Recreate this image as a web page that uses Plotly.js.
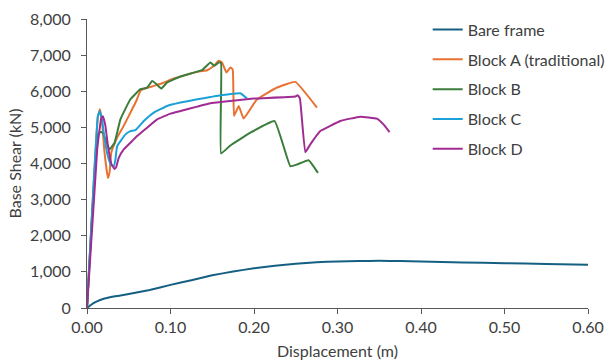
<!DOCTYPE html>
<html>
<head>
<meta charset="utf-8">
<script src="https://cdn.plot.ly/plotly-3.0.1.min.js"></script>
<style>
html,body{margin:0;padding:0;background:#fff;}
#chart{width:606px;height:363px;}
</style>
</head>
<body>
<div id="chart"></div>
<script>
// Series names
const seriesNames = ["Bare frame", "Block A (traditional)", "Block B", "Block C", "Block D"];

// Bare frame
const bareX = [0,0.005,0.01,0.015,0.02,0.03,0.04,0.05,0.075,0.1,0.125,0.15,0.175,0.2,0.225,0.25,0.275,0.3,0.325,0.35,0.375,0.4,0.45,0.5,0.55,0.6];
const bareY = [0,90,160,215,255,310,345,385,500,640,770,905,1010,1100,1170,1225,1265,1290,1300,1305,1300,1285,1260,1240,1220,1200];

// Block A (traditional)
const blockAX = [0,0.013,0.0155,0.018,0.021,0.025,0.027,0.029,0.033,0.037,0.043,0.049,0.054,0.059,0.064,0.07,0.08,0.09,0.104,0.12,0.135,0.144,0.152,0.1577,0.1617,0.1669,0.1717,0.1745,0.1761,0.1817,0.1876,0.1996,0.2036,0.2276,0.2495,0.2754];
const blockAY = [0,5300,5500,5150,4300,3600,3750,4300,4550,4760,5000,5270,5500,5731,6010,6080,6148,6220,6353,6460,6550,6580,6703,6842,6800,6520,6658,6600,5315,5592,5242,5650,5778,6103,6259,5547];

// Block B
const blockBX = [0,0.013,0.016,0.019,0.023,0.027,0.033,0.040,0.052,0.064,0.072,0.078,0.083,0.0888,0.096,0.112,0.125,0.1378,0.1478,0.1525,0.1577,0.1605,0.1606,0.1717,0.1956,0.2247,0.2435,0.2515,0.2654,0.2766];
const blockBY = [0,4800,4870,4850,4600,4390,4575,5222,5778,6056,6100,6287,6200,6075,6242,6408,6500,6584,6798,6703,6798,6780,4278,4500,4853,5175,3925,3972,4092,3742];

// Block C
const blockCX = [0,0.013,0.0153,0.018,0.021,0.025,0.029,0.0321,0.034,0.0361,0.0461,0.052,0.058,0.068,0.080,0.096,0.112,0.132,0.1478,0.160,0.1837,0.1917];
const blockCY = [0,5300,5453,5200,4700,4200,3950,3925,4100,4481,4806,4898,4925,5175,5409,5592,5686,5778,5840,5890,5945,5797];

// Block D
const blockDX = [0,0.0122,0.017,0.019,0.022,0.025,0.029,0.0329,0.035,0.038,0.044,0.052,0.060,0.072,0.084,0.100,0.112,0.132,0.1478,0.160,0.1996,0.2495,0.2523,0.2550,0.2614,0.2674,0.2794,0.2833,0.3033,0.3272,0.3472,0.3551,0.3623];
const blockDY = [0,4390,5250,5310,5050,4500,4000,3850,3900,4158,4390,4575,4760,4992,5222,5380,5453,5575,5667,5703,5797,5853,5890,5800,4314,4528,4898,4944,5175,5297,5242,5083,4870];

const colors = ["#156082", "#E97132", "#3B7D3B", "#1BA1D8", "#A02B93"];

const xs = [bareX, blockAX, blockBX, blockCX, blockDX];
const ys = [bareY, blockAY, blockBY, blockCY, blockDY];

const traces = seriesNames.map((name, i) => ({
  x: xs[i], y: ys[i], name: name, type: "scatter", mode: "lines",
  legendgroup: "g" + i,
  line: {color: colors[i], width: 2, shape: "spline", smoothing: 0.3}
}));

const fontFam = "Lato, 'Open Sans', sans-serif";
const txtColor = "#404040";
const layout = {
  width: 606, height: 363,
  margin: {l: 86.5, r: 18, t: 19, b: 55, autoexpand: false},
  paper_bgcolor: "#fff", plot_bgcolor: "#fff",
  font: {family: fontFam, size: 16, color: txtColor},
  showlegend: true,
  legend: {x: 0.68, y: 1.022, xanchor: "left", yanchor: "top", bgcolor: "rgba(0,0,0,0)",
           font: {family: fontFam, size: 16, color: txtColor}, tracegroupgap: 6, itemwidth: 30},
  xaxis: {
    range: [0, 0.6], dtick: 0.1, tick0: 0, tickformat: ".2f", automargin: false,
    showgrid: false, zeroline: false, showline: true, linecolor: "#595959", linewidth: 1,
    ticks: "outside", ticklen: 5, tickcolor: "#595959",
    tickfont: {family: fontFam, size: 16, color: txtColor},
    title: {text: "Displacement (m)", font: {family: fontFam, size: 16, color: txtColor}, standoff: 10}
  },
  yaxis: {
    range: [0, 8000], dtick: 1000, tickformat: ",.0f", automargin: false,
    showgrid: false, zeroline: false, showline: true, linecolor: "#595959", linewidth: 1,
    ticks: "outside", ticklen: 5, tickcolor: "#595959", ticklabelstandoff: 7,
    tickfont: {family: fontFam, size: 16, color: txtColor},
    title: {text: "Base Shear (kN)", font: {family: fontFam, size: 16, color: txtColor}, standoff: 4}
  }
};

Plotly.newPlot("chart", traces, layout, {staticPlot: true, displayModeBar: false});
</script>
</body>
</html>
